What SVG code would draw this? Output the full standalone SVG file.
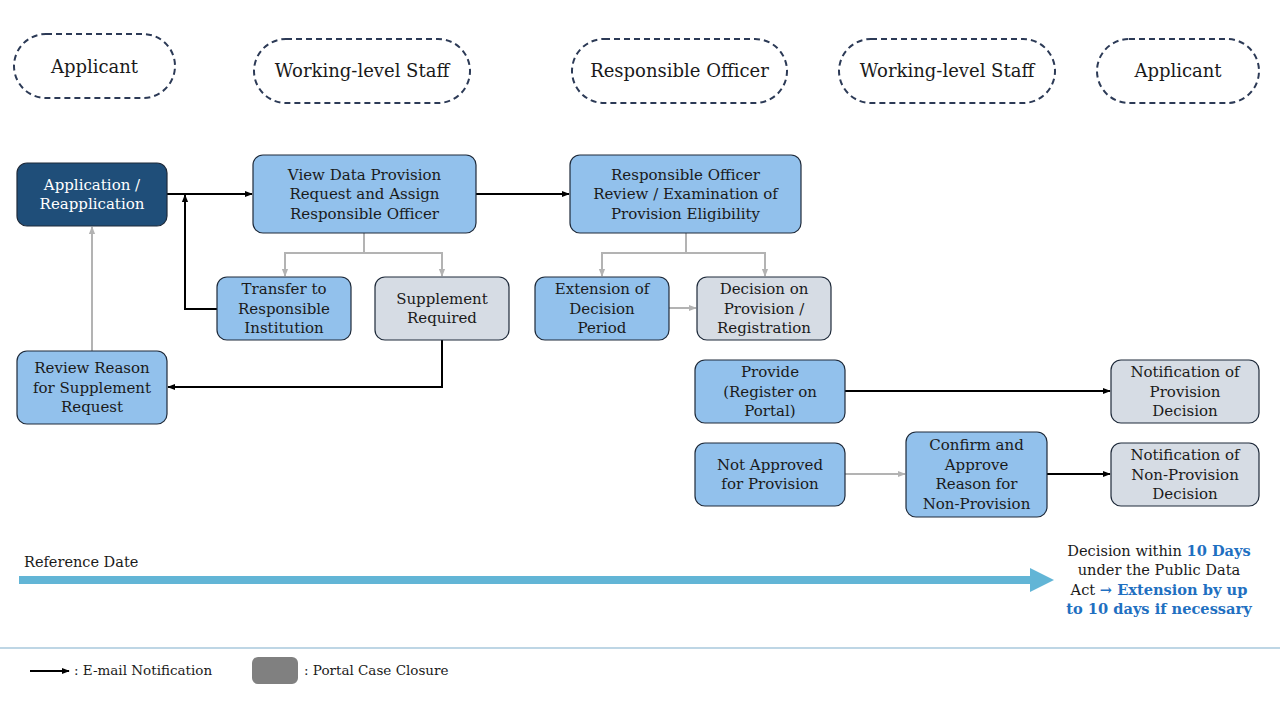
<svg xmlns="http://www.w3.org/2000/svg" width="1280" height="720" viewBox="0 0 1280 720">
<style>
text{font-family:"DejaVu Serif","Liberation Serif",serif;fill:#1a1a1a}
.hd{fill:none;stroke:#2c3a56;stroke-width:2;stroke-dasharray:6 4}
.ht{font-size:18px;text-anchor:middle}
.nb{fill:#92c1ec;stroke:#1e2a3a;stroke-width:1.2}
.ng{fill:#d6dce4;stroke:#1e2a3a;stroke-width:1.2}
.nd{fill:#1f4e79;stroke:#1e2a3a;stroke-width:1.2}
.nt{font-size:15px;text-anchor:middle}
.wt{fill:#ffffff}
.k{fill:none;stroke:#000;stroke-width:2}
.g{fill:none;stroke:#b3b3b3;stroke-width:2}
.bl{fill:#1f70c1;font-weight:bold}
</style>
<defs>
<marker id="ak" viewBox="0 0 10 10" refX="9" refY="5" markerWidth="8" markerHeight="8" orient="auto" markerUnits="userSpaceOnUse"><path d="M0,1L10,5L0,9z" fill="#000"/></marker>
<marker id="ag" viewBox="0 0 10 10" refX="9" refY="5" markerWidth="8" markerHeight="8" orient="auto" markerUnits="userSpaceOnUse"><path d="M0,1L10,5L0,9z" fill="#b3b3b3"/></marker>
</defs>
<rect width="1280" height="720" fill="#fff"/>

<g id="lane-applicant-1"><rect class="hd" x="14" y="34" width="161" height="64" rx="32"/><text class="ht" x="94.5" y="73">Applicant</text></g>
<g id="lane-staff-1"><rect class="hd" x="254" y="39" width="216" height="64" rx="32"/><text class="ht" x="362" y="77">Working-level Staff</text></g>
<g id="lane-officer"><rect class="hd" x="572" y="39" width="215" height="64" rx="32"/><text class="ht" x="679.5" y="77">Responsible Officer</text></g>
<g id="lane-staff-2"><rect class="hd" x="839" y="39" width="216" height="64" rx="32"/><text class="ht" x="947" y="77">Working-level Staff</text></g>
<g id="lane-applicant-2"><rect class="hd" x="1097" y="39" width="162" height="64" rx="32"/><text class="ht" x="1178" y="77">Applicant</text></g>

<g id="connectors">
<path class="k" d="M167,194H252" marker-end="url(#ak)"/>
<path class="k" d="M217,309H185V195" marker-end="url(#ak)"/>
<path class="k" d="M476,194H569" marker-end="url(#ak)"/>
<path class="g" d="M364,233V253H285V276" marker-end="url(#ag)"/>
<path class="g" d="M364,253H442V276" marker-end="url(#ag)"/>
<path class="g" d="M686,233V253H602V276" marker-end="url(#ag)"/>
<path class="g" d="M686,253H765V276" marker-end="url(#ag)"/>
<path class="g" d="M669,308H696" marker-end="url(#ag)"/>
<path class="k" d="M442,340V387H168" marker-end="url(#ak)"/>
<path class="g" d="M92,351V227" marker-end="url(#ag)"/>
<path class="k" d="M845,391H1110" marker-end="url(#ak)"/>
<path class="g" d="M845,474H905" marker-end="url(#ag)"/>
<path class="k" d="M1047,474H1110" marker-end="url(#ak)"/>
</g>

<g id="n-application"><rect class="nd" x="17" y="163" width="150" height="63" rx="10"/><text class="nt wt" x="92" y="189.5">Application /<tspan x="92" dy="19.5">Reapplication</tspan></text></g>
<g id="n-view"><rect class="nb" x="253" y="155" width="223" height="78" rx="10"/><text class="nt" x="364.5" y="179.5">View Data Provision<tspan x="364.5" dy="19.5">Request and Assign</tspan><tspan x="364.5" dy="19.5">Responsible Officer</tspan></text></g>
<g id="n-review"><rect class="nb" x="570" y="155" width="231" height="78" rx="10"/><text class="nt" x="685.5" y="179.5">Responsible Officer<tspan x="685.5" dy="19.5">Review / Examination of</tspan><tspan x="685.5" dy="19.5">Provision Eligibility</tspan></text></g>
<g id="n-transfer"><rect class="nb" x="217" y="277" width="134" height="63" rx="10"/><text class="nt" x="284" y="294">Transfer to<tspan x="284" dy="19.5">Responsible</tspan><tspan x="284" dy="19.5">Institution</tspan></text></g>
<g id="n-supplement"><rect class="ng" x="375" y="277" width="134" height="63" rx="10"/><text class="nt" x="442" y="303.75">Supplement<tspan x="442" dy="19.5">Required</tspan></text></g>
<g id="n-extension"><rect class="nb" x="535" y="277" width="134" height="63" rx="10"/><text class="nt" x="602" y="294">Extension of<tspan x="602" dy="19.5">Decision</tspan><tspan x="602" dy="19.5">Period</tspan></text></g>
<g id="n-decision"><rect class="ng" x="697" y="277" width="134" height="63" rx="10"/><text class="nt" x="764" y="294">Decision on<tspan x="764" dy="19.5">Provision /</tspan><tspan x="764" dy="19.5">Registration</tspan></text></g>
<g id="n-reason"><rect class="nb" x="17" y="351" width="150" height="73" rx="10"/><text class="nt" x="92" y="373">Review Reason<tspan x="92" dy="19.5">for Supplement</tspan><tspan x="92" dy="19.5">Request</tspan></text></g>
<g id="n-provide"><rect class="nb" x="695" y="360" width="150" height="63" rx="10"/><text class="nt" x="770" y="377">Provide<tspan x="770" dy="19.5">(Register on</tspan><tspan x="770" dy="19.5">Portal)</tspan></text></g>
<g id="n-notify-provision"><rect class="ng" x="1111" y="360" width="148" height="63" rx="10"/><text class="nt" x="1185" y="377">Notification of<tspan x="1185" dy="19.5">Provision</tspan><tspan x="1185" dy="19.5">Decision</tspan></text></g>
<g id="n-not-approved"><rect class="nb" x="695" y="443" width="150" height="63" rx="10"/><text class="nt" x="770" y="469.75">Not Approved<tspan x="770" dy="19.5">for Provision</tspan></text></g>
<g id="n-confirm"><rect class="nb" x="906" y="432" width="141" height="85" rx="10"/><text class="nt" x="976.5" y="450">Confirm and<tspan x="976.5" dy="19.5">Approve</tspan><tspan x="976.5" dy="19.5">Reason for</tspan><tspan x="976.5" dy="19.5">Non-Provision</tspan></text></g>
<g id="n-notify-non"><rect class="ng" x="1111" y="443" width="148" height="63" rx="10"/><text class="nt" x="1185" y="460">Notification of<tspan x="1185" dy="19.5">Non-Provision</tspan><tspan x="1185" dy="19.5">Decision</tspan></text></g>

<g id="timeline">
<rect x="19" y="576" width="1012" height="8" fill="#62b5d6"/>
<path d="M1030,568L1054,580L1030,592z" fill="#62b5d6"/>
<text x="24" y="567" font-size="14.5">Reference Date</text>
<text x="1159" y="556" font-size="14.6" text-anchor="middle">Decision within <tspan class="bl">10 Days</tspan><tspan x="1159" dy="19.3">under the Public Data</tspan><tspan x="1159" dy="19.3">Act <tspan class="bl">→ Extension by up</tspan></tspan><tspan x="1159" dy="19.3" class="bl">to 10 days if necessary</tspan></text>
</g>

<line x1="0" y1="648" x2="1280" y2="648" stroke="#a9c8dc" stroke-width="1.5"/>

<g id="legend">
<path d="M30,671H69" stroke="#000" stroke-width="2" marker-end="url(#ak)"/>
<text x="74" y="675" font-size="13.5">: E-mail Notification</text>
<rect x="252" y="657" width="46" height="27" rx="6" fill="#808080"/>
<text x="304" y="675" font-size="13.5">: Portal Case Closure</text>
</g>
</svg>
